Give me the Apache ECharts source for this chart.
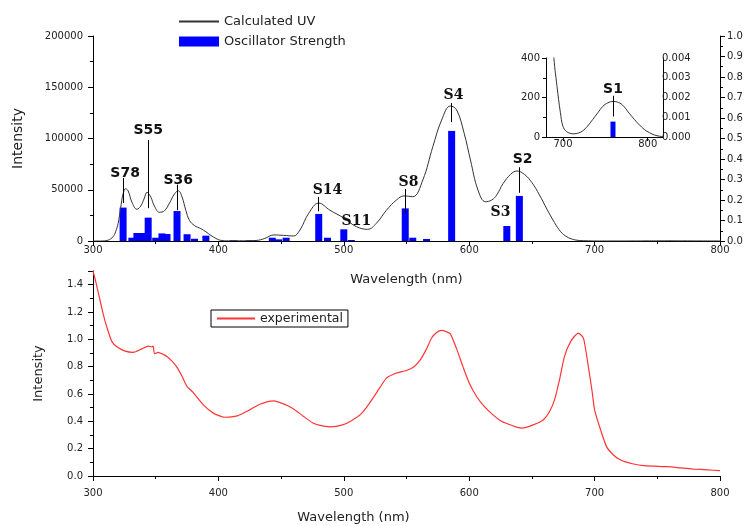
<!DOCTYPE html>
<html>
<head>
<meta charset="utf-8">
<script src="https://cdn.jsdelivr.net/npm/echarts@6/dist/echarts.min.js"></script>
<style>
  html, body { margin: 0; background: #fff; }
  #chart { width: 746px; height: 526px; }
</style>
</head>
<body>
<div id="chart"></div>
<script>
// calculated UV spectrum: [wavelength nm, intensity]
const calcUV = [
  [300, 0], [306, 0], [312, 800], [316, 4200], [318, 9000], [320, 17000], [322, 32000],
  [324, 46000], [326, 51000], [328, 49000], [331, 38000], [335, 31000], [338, 34000],
  [341, 42000], [343, 47500], [346, 43000], [349, 34000], [353, 28000], [357, 29500],
  [361, 37000], [365, 46000], [368, 49000], [371, 43000], [374, 30000], [377, 20000],
  [381, 15000], [386, 12000], [390, 9000], [394, 5500], [398, 2500], [402, 600],
  [408, 200], [420, 200], [430, 500], [437, 2500], [444, 5900], [452, 5500], [460, 4900],
  [465, 10700], [472, 27000], [480, 37000], [489, 30000], [500, 22400], [510, 14000],
  [519, 11400], [526, 17300], [534, 30000], [542, 40000], [548, 44000], [555, 43200],
  [563, 59500], [571, 92000], [578, 118000], [585, 131700], [590, 127800], [596, 105000],
  [601, 79000], [607, 49700], [613, 38300], [618, 40000], [622, 45000], [627, 56000],
  [633, 65000], [638, 68300], [644, 65000], [650, 57000], [656, 45000], [662, 31000],
  [668, 18000], [673, 9000], [678, 4000], [683, 1500], [686, 750], [689, 420], [693, 256],
  [697, 123], [700, 54], [704, 28], [708, 19], [713, 16], [718, 20], [723, 30], [729, 55],
  [735, 88], [741, 122], [747, 155], [753, 173], [759, 180], [764, 177], [770, 163],
  [778, 121], [784, 90], [790, 62], [796, 38], [802, 22], [808, 10], [814, 4], [820, 1]
];

// oscillator strengths: [wavelength nm, f]
const oscStrength = [
  [324, 0.163], [331, 0.016], [335, 0.039], [339, 0.039], [344, 0.114], [350, 0.016],
  [355, 0.037], [359, 0.034], [367, 0.146], [375, 0.033], [381, 0.011], [390, 0.026],
  [412, 0.003], [425, 0.003], [443, 0.016], [448, 0.008], [454, 0.016], [480, 0.132],
  [487, 0.016], [500, 0.057], [506, 0.005], [549, 0.159], [555, 0.016], [566, 0.010],
  [586, 0.537], [630, 0.073], [640, 0.220], [759, 0.00078]
];

// excited state annotations (data units): line at x from y0 to y1, label at [lx, ly]
const states = [
  { name: 'S78', x: 324, y0: 37000, y1: 61500, lx: 325.6, ly: 66300 },
  { name: 'S55', x: 344, y0: 32000, y1: 98500, lx: 344, ly: 108300 },
  { name: 'S36', x: 367, y0: 30000, y1: 55000, lx: 368, ly: 59500 },
  { name: 'S14', x: 480, y0: 29000, y1: 43000, lx: 487, ly: 49800 },
  { name: 'S11', x: 500, y0: null, y1: null, lx: 510, ly: 19500 },
  { name: 'S8', x: 549, y0: 27000, y1: 50700, lx: 551.6, ly: 57600 },
  { name: 'S4', x: 586, y0: 116000, y1: 134600, lx: 587.5, ly: 142400 },
  { name: 'S3', x: 630, y0: null, y1: null, lx: 625, ly: 28300 },
  { name: 'S2', x: 640, y0: 47000, y1: 72000, lx: 642.6, ly: 80000 }
];
const insetState = { name: 'S1', x: 759, y0: 104, y1: 209, lx: 759, ly: 242 };

// experimental absorption: [wavelength nm, intensity]
const expAbs = [
  [300, 1.5], [302, 1.43], [305, 1.31], [308, 1.19], [311, 1.09], [315, 0.985],
  [319, 0.945], [325, 0.916], [332, 0.905], [339, 0.93], [344, 0.95], [347, 0.945],
  [348, 0.95], [349, 0.895], [352, 0.905], [356, 0.89], [359, 0.875], [363, 0.84],
  [367, 0.795], [371, 0.73], [375, 0.655], [380, 0.61], [388, 0.52], [396, 0.46],
  [405, 0.43], [415, 0.44], [425, 0.484], [433, 0.525], [444, 0.55], [454, 0.52],
  [460, 0.49], [468, 0.435], [475, 0.39], [481, 0.37], [489, 0.36], [495, 0.365],
  [501, 0.38], [507, 0.41], [513, 0.447], [518, 0.5], [524, 0.58], [529, 0.65],
  [534, 0.716], [541, 0.75], [550, 0.772], [556, 0.8], [561, 0.85], [566, 0.93],
  [570, 1.01], [574, 1.05], [578, 1.065], [582, 1.055], [585, 1.04], [590, 0.93],
  [595, 0.8], [600, 0.68], [606, 0.58], [612, 0.51], [619, 0.447], [625, 0.405],
  [631, 0.38], [637, 0.36], [642, 0.35], [651, 0.374], [659, 0.41], [664, 0.47],
  [668, 0.557], [672, 0.704], [676, 0.875], [681, 0.985], [687, 1.046], [691, 1.01],
  [693, 0.92], [695, 0.8], [698, 0.62], [700, 0.484], [704, 0.36], [709.5, 0.215],
  [715, 0.154], [720, 0.12], [724, 0.105], [731, 0.088], [739, 0.076], [748, 0.072],
  [758, 0.068], [768, 0.06], [779, 0.051], [790, 0.045], [800, 0.039]
];

const insetXLabels = [700, 800];
const serifStates = ['S14', 'S11', 'S8', 'S4', 'S3'];

const FONT = 'DejaVu Sans';
const tickText = { fontFamily: FONT, fontSize: 10, color: '#222' };
const black = { color: '#000', width: 1 };
const noSymbol = { opacity: 0 }; // hide the dot on line legend icons

function valueAxis(extra) {
  return Object.assign({
    type: 'value',
    axisLine: { show: true, onZero: false, lineStyle: black },
    axisTick: { show: true, length: 5, lineStyle: black },
    minorTick: { show: true, splitNumber: 2, length: 3, lineStyle: black },
    splitLine: { show: false },
    axisLabel: Object.assign({}, tickText),
    nameTextStyle: { fontFamily: FONT, fontSize: 13, color: '#222' }
  }, extra);
}

function stateLabelStyle(name) {
  return {
    show: true, position: 'inside', formatter: '{b}', color: '#111',
    fontSize: 14, fontWeight: 'bold',
    fontFamily: serifStates.includes(name) ? 'DejaVu Serif' : FONT
  };
}

const chart = echarts.init(document.getElementById('chart'));

chart.setOption({
  animation: false,
  backgroundColor: '#fff',
  grid: [
    { left: 93, top: 36, width: 627, height: 205 },
    { left: 93, top: 271, width: 627, height: 205 },
    { left: 546, top: 58, width: 117, height: 79 }
  ],
  legend: [
    {
      orient: 'vertical', left: 173, top: 10, itemWidth: 40, itemHeight: 10, itemGap: 7,
      data: [
        { name: 'Calculated UV', itemStyle: noSymbol },
        { name: 'Oscillator Strength', icon: 'rect' }
      ],
      textStyle: { fontFamily: FONT, fontSize: 13, color: '#222' }
    },
    {
      left: 211, top: 310, itemWidth: 38, itemHeight: 10, padding: [2, 5],
      borderColor: '#000', borderWidth: 1,
      data: [{ name: 'experimental', itemStyle: noSymbol }],
      textStyle: { fontFamily: FONT, fontSize: 12.5, color: '#222' }
    }
  ],
  xAxis: [
    valueAxis({
      gridIndex: 0, min: 300, max: 800, interval: 100,
      axisLabel: Object.assign({ margin: 4 }, tickText),
      name: 'Wavelength (nm)', nameLocation: 'middle', nameGap: 32
    }),
    valueAxis({
      gridIndex: 1, min: 300, max: 800, interval: 100,
      axisLabel: Object.assign({ margin: 12 }, tickText),
      name: 'Wavelength (nm)', nameLocation: 'middle', nameGap: 35,
      nameTextStyle: { fontFamily: FONT, fontSize: 13, color: '#222', padding: [0, 106, 0, 0] }
    }),
    valueAxis({
      gridIndex: 2, min: 680, max: 818,
      axisTick: { show: true, length: 4, lineStyle: black, customValues: insetXLabels },
      minorTick: { show: false },
      axisLabel: Object.assign({ margin: 2, customValues: insetXLabels }, tickText)
    })
  ],
  yAxis: [
    valueAxis({
      gridIndex: 0, min: 0, max: 200000, interval: 50000, position: 'left',
      axisLabel: Object.assign({ margin: 10, formatter: v => String(v) }, tickText),
      name: 'Intensity', nameLocation: 'middle', nameGap: 68, nameRotate: 90,
      nameTextStyle: { fontFamily: FONT, fontSize: 14, color: '#222' }
    }),
    valueAxis({
      gridIndex: 0, min: 0, max: 1, interval: 0.1, position: 'right',
      axisLabel: Object.assign({ margin: 7, formatter: v => v.toFixed(1) }, tickText)
    }),
    valueAxis({
      gridIndex: 1, min: 0, max: 1.5, interval: 0.2,
      axisLabel: Object.assign({ margin: 10, showMaxLabel: false, formatter: v => v.toFixed(1) }, tickText),
      name: 'Intensity', nameLocation: 'middle', nameGap: 48, nameRotate: 90
    }),
    valueAxis({
      gridIndex: 2, min: 0, max: 400, interval: 200, position: 'left',
      axisTick: { show: true, length: 4, lineStyle: black },
      axisLabel: Object.assign({ margin: 6 }, tickText)
    }),
    valueAxis({
      gridIndex: 2, min: 0, max: 0.004, interval: 0.001, position: 'right',
      axisTick: { show: false },
      minorTick: { show: false },
      axisLabel: Object.assign({ margin: -1, formatter: v => v.toFixed(3) }, tickText)
    })
  ],
  series: [
    {
      name: 'Oscillator Strength', type: 'bar', xAxisIndex: 0, yAxisIndex: 1,
      data: oscStrength, barWidth: 7, itemStyle: { color: '#0000ff' }
    },
    {
      name: 'Calculated UV', type: 'line', xAxisIndex: 0, yAxisIndex: 0,
      data: calcUV, symbol: 'none', smooth: 0.4, clip: true,
      lineStyle: { color: '#333', width: 1 }, itemStyle: { color: '#333' },
      markLine: {
        silent: true, symbol: 'none', animation: false,
        label: { show: false },
        lineStyle: { color: '#000', width: 1, type: 'solid' },
        data: states.filter(s => s.y0 !== null)
          .map(s => [{ coord: [s.x, s.y0] }, { coord: [s.x, s.y1] }])
      },
      markPoint: {
        silent: true, symbol: 'circle', symbolSize: 0, animation: false,
        data: states.map(s => ({ name: s.name, coord: [s.lx, s.ly], label: stateLabelStyle(s.name) }))
      }
    },
    {
      name: 'experimental', type: 'line', xAxisIndex: 1, yAxisIndex: 2,
      data: expAbs, symbol: 'none', smooth: 0.2,
      lineStyle: { color: '#ff3535', width: 1.2 }, itemStyle: { color: '#ff3535' }
    },
    {
      name: 'inset OS', type: 'bar', xAxisIndex: 2, yAxisIndex: 4,
      data: oscStrength, barWidth: 5, itemStyle: { color: '#0000ff' }
    },
    {
      name: 'inset UV', type: 'line', xAxisIndex: 2, yAxisIndex: 3,
      data: calcUV, symbol: 'none', smooth: 0.4, clip: true,
      lineStyle: { color: '#333', width: 1 },
      markLine: {
        silent: true, symbol: 'none', animation: false,
        label: { show: false },
        lineStyle: { color: '#000', width: 1, type: 'solid' },
        data: [[{ coord: [insetState.x, insetState.y0] }, { coord: [insetState.x, insetState.y1] }]]
      },
      markPoint: {
        silent: true, symbol: 'circle', symbolSize: 0, animation: false,
        data: [{ name: insetState.name, coord: [insetState.lx, insetState.ly], label: stateLabelStyle(insetState.name) }]
      }
    }
  ]
});
</script>
</body>
</html>
